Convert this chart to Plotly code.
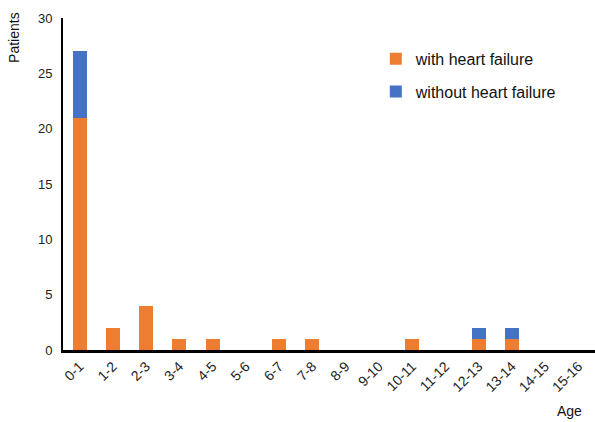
import plotly.graph_objects as go

categories = ["0-1", "1-2", "2-3", "3-4", "4-5", "5-6", "6-7", "7-8", "8-9", "9-10",
              "10-11", "11-12", "12-13", "13-14", "14-15", "15-16"]
with_hf = [21, 2, 4, 1, 1, 0, 1, 1, 0, 0, 1, 0, 1, 1, 0, 0]
without_hf = [6, 0, 0, 0, 0, 0, 0, 0, 0, 0, 0, 0, 1, 1, 0, 0]
y_ticks = [0, 5, 10, 15, 20, 25, 30]

FONT = "Liberation Sans, Arial, sans-serif"

fig = go.Figure()
fig.add_trace(go.Bar(x=categories, y=with_hf, name="with heart failure",
                     marker=dict(color="#ED7D31", line=dict(width=0)),
                     legendgroup="a"))
fig.add_trace(go.Bar(x=categories, y=without_hf, name="without heart failure",
                     marker=dict(color="#4472C4", line=dict(width=0)),
                     legendgroup="b"))

fig.update_layout(
    width=595, height=422,
    margin=dict(l=63, r=0, t=18, b=72),
    barmode="stack", bargap=0.58,
    plot_bgcolor="white", paper_bgcolor="white",
    font=dict(family=FONT, size=12, color="#111"),
    showlegend=True,
    legend=dict(x=0.588, y=0.928, xanchor="left", yanchor="top",
                traceorder="grouped", tracegroupgap=9,
                font=dict(size=16, color="#111"), bgcolor="rgba(0,0,0,0)"),
    xaxis=dict(type="category", showline=True, linecolor="black", linewidth=2.5, ticks="",
               tickangle=-45, tickfont=dict(size=14, color="#222"),
               showgrid=False, zeroline=False),
    yaxis=dict(range=[0, 30], tickvals=y_ticks, showline=True, linecolor="black",
               linewidth=2, ticks="", showgrid=False, zeroline=False,
               tickfont=dict(size=13, color="#222"), ticklabelstandoff=6),
    annotations=[
        dict(text="Patients", x=0, xref="paper", xanchor="center", xshift=-49,
             y=0.94, yref="paper", yanchor="middle", textangle=-90,
             showarrow=False, font=dict(size=14, color="#111")),
        dict(text="Age", x=0.953, xref="paper", xanchor="center",
             y=0, yref="paper", yanchor="middle", yshift=-61,
             showarrow=False, font=dict(size=14, color="#111")),
    ],
)

fig.write_html("out.html", config={"displayModeBar": False},
               post_script="document.body.style.margin='0px';")
